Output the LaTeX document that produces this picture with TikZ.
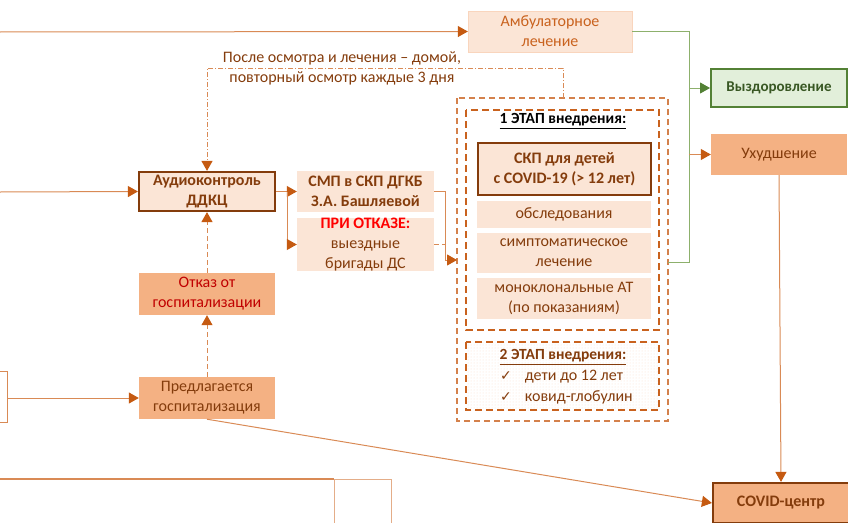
\documentclass[tikz,border=0pt]{standalone}
\usepackage{fontspec}
\setmainfont{Carlito}
\newfontfamily\symfont{DejaVu Sans}
\usetikzlibrary{arrows.meta,patterns}
\definecolor{lightfill}{HTML}{FBE5D6}
\definecolor{midfill}{HTML}{F4B183}
\definecolor{darkbr}{HTML}{843C0C}
\definecolor{txtbr}{HTML}{843C0C}
\definecolor{lineor}{HTML}{D98A55}
\definecolor{tipor}{HTML}{C55A11}
\definecolor{dashor}{HTML}{C9621E}
\definecolor{ambtxt}{HTML}{C9621E}
\definecolor{greenb}{HTML}{538135}
\definecolor{greenf}{HTML}{E2EFDA}
\definecolor{greenl}{HTML}{8DB06C}
\definecolor{greent}{HTML}{385723}
\definecolor{redt}{HTML}{C00000}
\begin{document}
\begin{tikzpicture}[x=1pt,y=-1pt,
  font=\fontsize{16}{20}\selectfont,
  bx/.style={align=center, inner sep=0pt, text=txtbr},
  lbox/.style={bx, fill=lightfill},
  mbox/.style={bx, fill=midfill},
  thickbox/.style={line width=2.2pt, draw=darkbr, text=darkbr, font=\fontsize{16}{20}\selectfont\bfseries},
  conn/.style={draw=lineor, line width=1pt},
  arr/.style={conn, -{Triangle[length=10pt,width=11pt,color=tipor]}},
  garr/.style={draw=greenl, line width=1pt, -{Triangle[length=10pt,width=11pt,color=greenb]}},
  dashd/.style={dash pattern=on 5pt off 3pt},
  dashdot/.style={dash pattern=on 5pt off 2pt on 1pt off 2pt},
  outerdash/.style={draw=dashor!80, line width=1.7pt, dash pattern=on 6pt off 4pt},
  innerdash/.style={draw=dashor, line width=2.4pt, dash pattern=on 7pt off 4pt},
]
\useasboundingbox (0,0) rectangle (848,522);
\clip (0,0) rectangle (848,522);

% nodes
\node[bx, fill=lightfill, draw=lightfill!70!midfill, text=ambtxt, minimum width=164pt, minimum height=41pt] (amb) at (550,31.5) {Амбулаторное\\лечение};
\node[bx, fill=greenf, draw=greenb, line width=2pt, text=greent, font=\fontsize{15}{19}\selectfont\bfseries, minimum width=136pt, minimum height=38pt] (vyz) at (779,88) {Выздоровление};
\node[mbox, minimum width=136pt, minimum height=41pt] (uhud) at (779,154.5) {Ухудшение};
\node[mbox, thickbox, minimum width=136pt, minimum height=40pt] (covid) at (781,503) {COVID-центр};

\node[lbox, thickbox, minimum width=136pt, minimum height=39pt] (audio) at (207,191.5) {Аудиоконтроль\\ДДКЦ};
\node[lbox, text=darkbr, font=\fontsize{16}{20}\selectfont\bfseries, minimum width=137pt, minimum height=41pt] (smp) at (365.5,191.5) {СМП в СКП ДГКБ\\З.А. Башляевой};
\node[lbox, minimum width=137pt, minimum height=53pt] (otkaze) at (365.5,244.5) {{\bfseries\color{red}ПРИ ОТКАЗЕ:}\\выездные\\бригады ДС};
\node[mbox, text=redt, minimum width=136pt, minimum height=42pt] (otkaz) at (207,294) {Отказ от\\госпитализации};
\node[mbox, minimum width=136pt, minimum height=42pt] (predl) at (207,398) {Предлагается\\госпитализация};

% stage boxes
\draw[outerdash] (457,98) rectangle (668,421);
\coordinate (outtop) at (563,98);
\coordinate (outleft) at (457,260);
\coordinate (outright) at (668,262);
\draw[innerdash] (466,110) rectangle (659,330);
\node[font=\fontsize{15.5}{19}\selectfont\bfseries, text=black, inner sep=0pt] (et1) at (563,121) {\underline{1 ЭТАП внедрения:}};
\node[lbox, thickbox, minimum width=173pt, minimum height=52pt] (skp) at (564.5,169) {СКП для детей\\с COVID-19 (> 12 лет)};
\node[lbox, minimum width=174pt, minimum height=27pt] (obsl) at (564,214.5) {обследования};
\node[lbox, minimum width=174pt, minimum height=40pt] (simpt) at (564,253) {симптоматическое\\лечение};
\node[lbox, minimum width=174pt, minimum height=41pt] (mono) at (564,298.5) {моноклональные АТ\\(по показаниям)};

\fill[white] (466,342) rectangle (659,410);
\fill[pattern=dots, pattern color=midfill!40] (466,342) rectangle (659,410);
\draw[innerdash] (466,342) rectangle (659,410);
\node[bx, text=darkbr, font=\fontsize{15.5}{19}\selectfont\bfseries] (et2) at (563,357) {\underline{2 ЭТАП внедрения:}};
\node[bx, anchor=west] (c1) at (500,377) {{\symfont\fontsize{14}{16}\selectfont ✓}\hspace{13pt}дети до 12 лет};
\node[bx, anchor=west] (c2) at (500,397) {{\symfont\fontsize{14}{16}\selectfont ✓}\hspace{13pt}ковид-глобулин};

% dash-dot return path
\node[bx, text=darkbr, anchor=center] (posle) at (342,68) {После осмотра и лечения – домой,\\ повторный осмотр каждые 3 дня};
\draw[conn, dashdot, -{Triangle[length=10pt,width=11pt,color=tipor]}] (outtop) -- (563,68) -| (audio.north);

% left boundary elements
\coordinate (lefttop) at (0,32);
\coordinate (leftmid) at (0,192);
\draw[conn] (-5,371) rectangle (7,422);
\coordinate (lbox) at (7,398);
\draw[arr] (lefttop) -- (amb.west);
\draw[arr] (leftmid) -- (audio.west);
\draw[arr] (lbox) -- (predl.west);

% bottom partial shapes
\draw[draw=lineor, line width=1.2pt] (0,479) -- (334,479);
\draw[draw=lineor!70, line width=1pt] (334,479) -- (391,479) -- (391,530);
\draw[draw=lineor!70, line width=1pt] (334,479) -- (334,530);

% connectors
\draw[arr] (audio.east) -- (287,191.5) -- (smp.west);
\draw[arr] (287,191.5) |- (otkaze.west);
\draw[arr] (smp.east) -- (445,191.5) |- (outleft);
\draw[conn, dashd] (otkaze.east) -- (445,244.5);
\draw[arr, dashd] (otkaz.north) -- (audio.south);
\draw[arr, dashd] (predl.north) -- (otkaz.south);
\draw[arr] (predl.south) -- (covid.west);
\draw[arr] (uhud.south) -- (covid.north);

\draw[draw=greenl, line width=1pt] (amb.east) -- (689,31.5) -- (689,262) -- (outright);
\draw[garr] (689,88) -- (vyz.west);
\draw[arr] (689,154.5) -- (uhud.west);
\end{tikzpicture}
\end{document}
